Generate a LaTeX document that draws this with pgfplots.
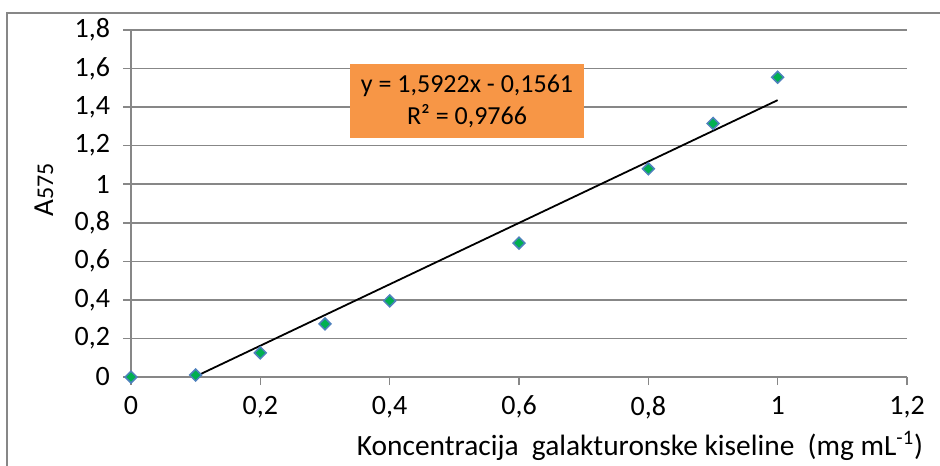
\documentclass[border=0pt]{standalone}
\usepackage{fontspec}
\setmainfont{Carlito}
\usepackage{pgfplots}
\pgfplotsset{compat=1.18}
\definecolor{gridgray}{HTML}{878787}
\definecolor{mkgreen}{HTML}{00B050}
\definecolor{mkblue}{HTML}{4F81BD}
\definecolor{boxorange}{HTML}{F79646}
\begin{document}
\begin{tikzpicture}[x=1pt,y=1pt]
\useasboundingbox (0,0) rectangle (470,232.5);
\draw[gridgray, line width=0.75pt] (3.5,-5) -- (3.5,226) -- (480,226);
\begin{axis}[
  at={(65.5pt,44pt)}, anchor=south west,
  scale only axis, width=388pt, height=173.5pt,
  xmin=0, xmax=1.2, ymin=0, ymax=1.8,
  xtick={0,0.2,0.4,0.6,0.8,1,1.2},
  ytick={0,0.2,0.4,0.6,0.8,1,1.2,1.4,1.6,1.8},
  axis lines*=left,
  axis line style={gridgray, line width=0.75pt},
  tick style={gridgray, line width=0.75pt},
  major tick length=4pt, tick align=outside,
  ymajorgrids, grid style={gridgray, line width=0.75pt},
  ticklabel style={font=\fontsize{14}{16}\selectfont, text=black},
  yticklabel style={xshift=-3pt},
  xticklabel style={yshift=-2pt},
  /pgf/number format/use comma,
  /pgf/number format/assume math mode=true,
  clip=false,
]
\addplot[only marks, mark=square*, mark size=2.1pt,
  mark options={fill=mkgreen, draw=mkblue, line width=0.75pt, rotate=45}]
  coordinates {(0,0) (0.1,0.01) (0.2,0.125) (0.3,0.275) (0.4,0.395)
               (0.6,0.695) (0.8,1.08) (0.9,1.315) (1.0,1.555)};
\addplot[black, line width=0.9pt] coordinates {(0.1,0.00312) (1.0,1.4361)};
\node[fill=boxorange, inner sep=0pt, minimum width=117pt, minimum height=37pt,
      align=center, font=\fontsize{13}{16}\selectfont]
  at (axis cs:0.5196,1.432) {y = 1,5922x - 0,1561\\R² = 0,9766};
\end{axis}
\node[anchor=base, font=\fontsize{14.7}{16}\selectfont] at (320,5)
  {Koncentracija\ \ galakturonske kiseline\ \ (mg mL\textsuperscript{-1})};
\node[rotate=90, anchor=base, font=\fontsize{14.5}{16}\selectfont] at (26.5,137.5)
  {A{\fontsize{12}{14}\selectfont 575}};
\end{tikzpicture}
\end{document}
